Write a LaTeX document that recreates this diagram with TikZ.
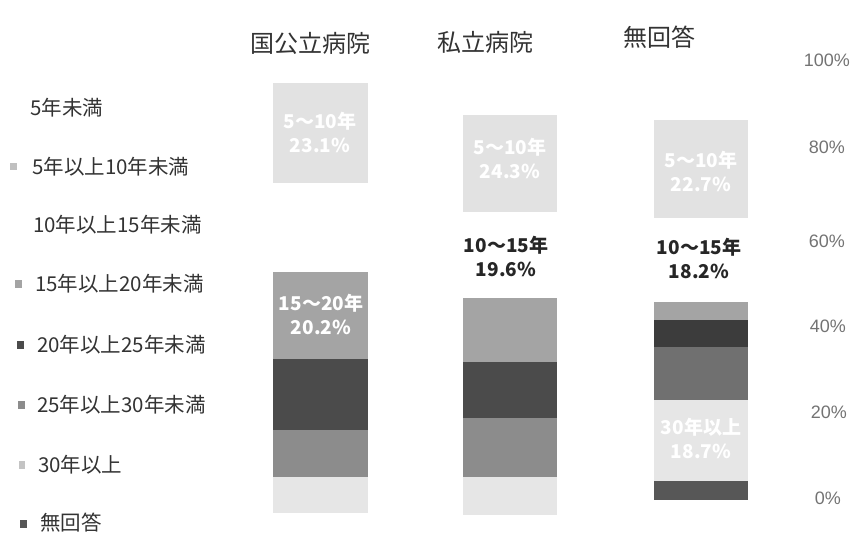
\documentclass[tikz,border=0pt]{standalone}
\usepackage{fontspec}
\newfontfamily\jpfont{Noto Sans CJK JP}
\newfontfamily\axfont{Liberation Sans}
\usepackage{tikz}
\usetikzlibrary{%
  calc,
  positioning,
}

\definecolor{cFive}{HTML}{E2E2E2}
\definecolor{cFifteen}{HTML}{A4A4A4}
\definecolor{cTwenty}{HTML}{4B4B4B}
\definecolor{cTwentyFive}{HTML}{8C8C8C}
\definecolor{cThirty}{HTML}{E6E6E6}
\definecolor{cNone}{HTML}{575757}
\definecolor{txtgray}{HTML}{333333}

\begin{document}
\begin{tikzpicture}[x=1pt, y=-1pt,
  title/.style = {font=\jpfont\fontsize{24}{24}\selectfont,
    text=txtgray},
  legtext/.style = {anchor=west, inner sep=0pt,
    font=\jpfont\fontsize{20.5}{20.5}\selectfont, text=txtgray},
  axlabel/.style = {anchor=east, inner sep=0pt,
    font=\axfont\fontsize{18}{18}\selectfont, text=black!55},
  inbar/.style = {inner sep=0pt, text=white,
    font=\jpfont\bfseries\fontsize{19}{19}\selectfont},
  outbar/.style = {inbar, text=black!85},
]
  \useasboundingbox (0,0) rectangle (854,535);
  % no units = pt, y grows downwards

  % column titles
  \node[title] (t1) at (310,43) {国公立病院};
  \node[title] (t2) at (485,42) {私立病院};
  \node[title] (t3) at (659,37) {無回答};

  % bars: top/bottom/colour
  \foreach \a/\b/\c in {83/183/cFive, 272/359/cFifteen,
      359/430/cTwenty, 430/477/cTwentyFive, 477/513/cThirty}
    \fill[\c] (273,\a) rectangle (368,\b);
  \foreach \a/\b/\c in {115/212/cFive, 298/362/cFifteen,
      362/418/cTwenty, 418/477/cTwentyFive, 477/515/cThirty}
    \fill[\c] (463,\a) rectangle (557,\b);
  \foreach \a/\b/\c in {120/218/cFive, 302/320/cFifteen,
      320/347/cTwenty!80!black, 347/400/cTwentyFive!80!black,
      400/481/cThirty, 481/500/cNone}
    \fill[\c] (654,\a) rectangle (748,\b);

  % labels in the bars
  \node[inbar] (a1) at (320,121) {5～10年};
  \node[inbar, below=8pt of a1] (a2) {23.1\%};
  \node[inbar] (a3) at (321,303) {15～20年};
  \node[inbar, below=8pt of a3] (a4) {20.2\%};

  \node[inbar] (b1) at (510,147) {5～10年};
  \node[inbar, below=8pt of b1] (b2) {24.3\%};
  \node[outbar] (b3) at (506,245) {10～15年};
  \node[outbar, below=8pt of b3] (b4) {19.6\%};

  \node[inbar] (c1) at (701,160) {5～10年};
  \node[inbar, below=8pt of c1] (c2) {22.7\%};
  \node[outbar] (c3) at (699,247) {10～15年};
  \node[outbar, below=8pt of c3] (c4) {18.2\%};
  \node[inbar] (c5) at (701,427) {30年以上};
  \node[inbar, below=8pt of c5] (c6) {18.7\%};

  % percent axis
  \node[axlabel] (p100) at (850,60) {100\%};
  \node[axlabel] (p80) at (845,147) {80\%};
  \node[axlabel] (p60) at (845,241) {60\%};
  \node[axlabel] (p40) at (846,326) {40\%};
  \node[axlabel] (p20) at (847,412) {20\%};
  \node[axlabel] (p0) at (841,498) {0\%};

  % legend
  \fill[cFive!85!black] (10,163) rectangle ++(7,7);
  \fill[cFifteen] (15,280) rectangle ++(7,8);
  \fill[cTwenty] (17,341) rectangle ++(7,8);
  \fill[cTwentyFive] (18,401) rectangle ++(7,8);
  \fill[cThirty!85!black] (19,461) rectangle ++(6,8);
  \fill[cNone] (20,520) rectangle ++(7,8);

  \node[legtext] (l1) at (30,108) {5年未満};
  \node[legtext] (l2) at (32,167) {5年以上10年未満};
  \node[legtext] (l3) at (33,225) {10年以上15年未満};
  \node[legtext] (l4) at (35,284) {15年以上20年未満};
  \node[legtext] (l5) at (37,345) {20年以上25年未満};
  \node[legtext] (l6) at (37,405) {25年以上30年未満};
  \node[legtext] (l7) at (38,465) {30年以上};
  \node[legtext] (l8) at (40,523) {無回答};
\end{tikzpicture}
\end{document}
